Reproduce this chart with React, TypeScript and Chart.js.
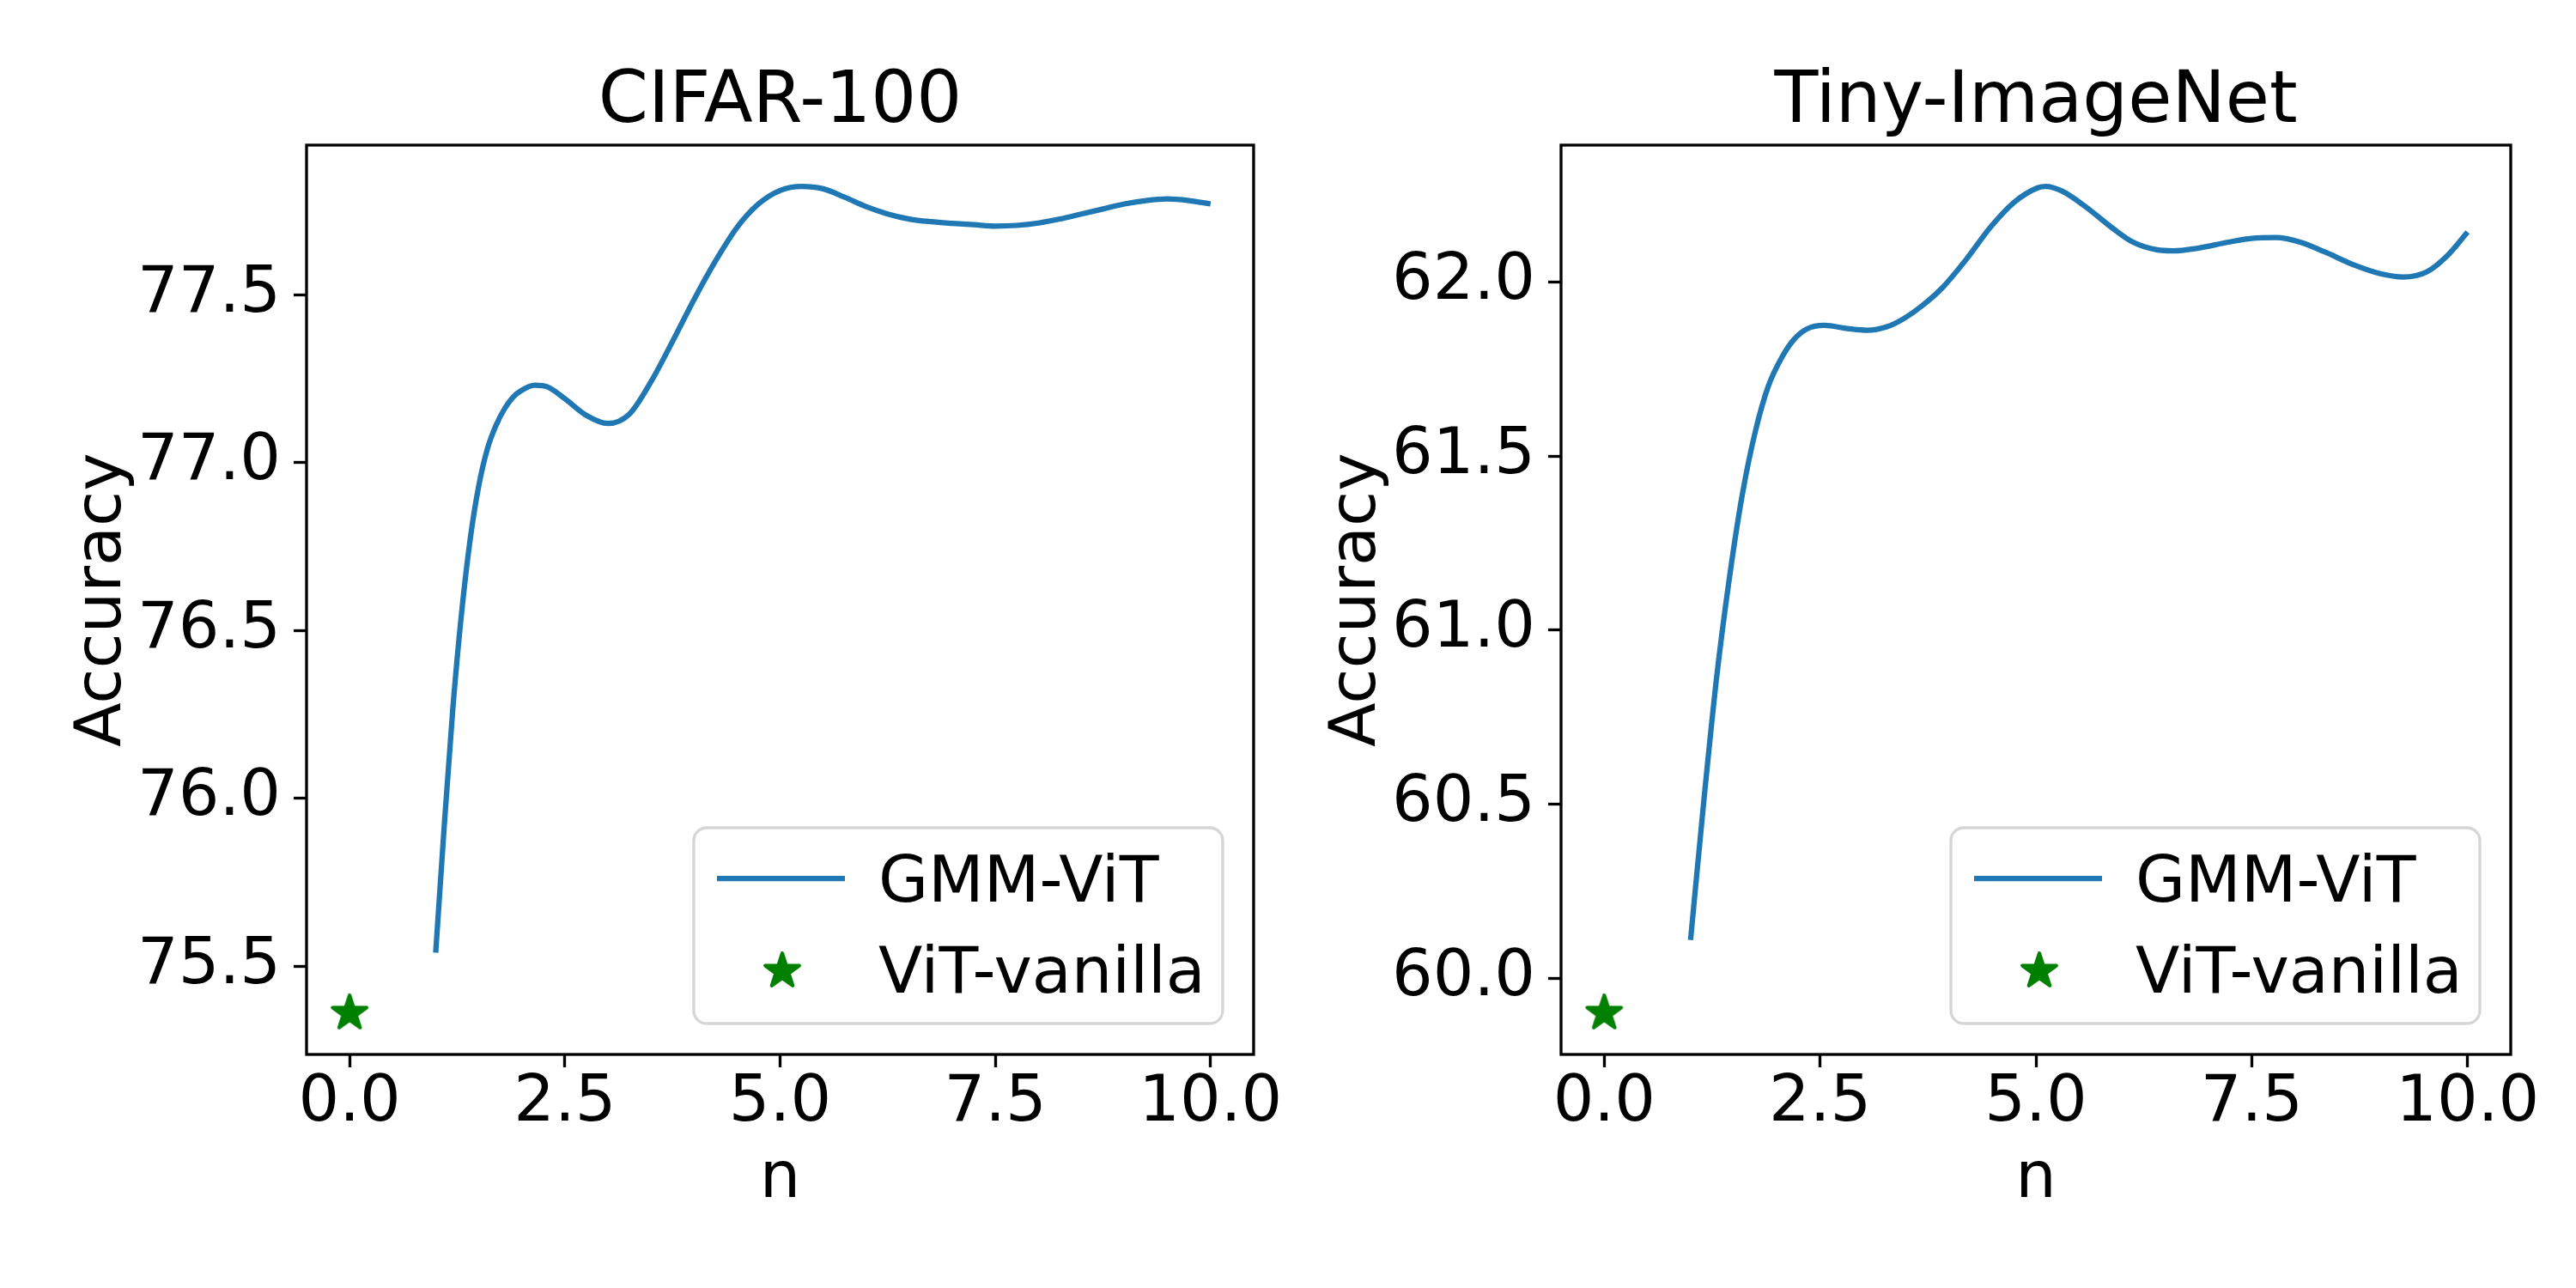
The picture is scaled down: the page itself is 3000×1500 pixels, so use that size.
import React, { useEffect, useRef } from 'react';
import { Chart, registerables } from 'chart.js';
Chart.register(...registerables);

// ---- data ----
const TITLES = ['CIFAR-100', 'Tiny-ImageNet'];
const SERIES_LABELS = ['GMM-ViT', 'ViT-vanilla'];
const X_LABEL = 'n';
const Y_LABEL = 'Accuracy';

const N_CIFAR = [1.0, 1.1, 1.2, 1.3, 1.4, 1.5, 1.6, 1.7, 1.8, 1.9, 2.0, 2.15, 2.3, 2.5, 2.75, 3.0, 3.25, 3.5, 3.75, 4.0, 4.25, 4.5, 4.75, 5.0, 5.25, 5.5, 5.75, 6.0, 6.25, 6.5, 6.75, 7.0, 7.25, 7.5, 7.75, 8.0, 8.25, 8.5, 8.75, 9.0, 9.25, 9.5, 9.75, 10.0];
const ACC_CIFAR = [75.54, 75.92, 76.27, 76.55, 76.77, 76.93, 77.04, 77.11, 77.16, 77.195, 77.215, 77.23, 77.225, 77.19, 77.14, 77.116, 77.144, 77.24, 77.36, 77.485, 77.6, 77.7, 77.77, 77.81, 77.822, 77.815, 77.79, 77.762, 77.74, 77.725, 77.717, 77.712, 77.708, 77.704, 77.706, 77.713, 77.725, 77.74, 77.755, 77.77, 77.78, 77.785, 77.78, 77.77];

const N_TINY = [1.0, 1.15, 1.3, 1.45, 1.6, 1.75, 1.9, 2.05, 2.2, 2.35, 2.55, 2.815, 3.045, 3.275, 3.46, 3.69, 3.92, 4.195, 4.47, 4.745, 5.02, 5.115, 5.3, 5.575, 5.9, 6.125, 6.4, 6.59, 6.86, 7.23, 7.5, 7.78, 8.06, 8.335, 8.7, 8.98, 9.255, 9.53, 9.76, 10.0];
const ACC_TINY = [60.11, 60.5, 60.86, 61.15, 61.39, 61.57, 61.7, 61.78, 61.835, 61.865, 61.875, 61.866, 61.861, 61.871, 61.893, 61.933, 61.984, 62.065, 62.156, 62.228, 62.27, 62.274, 62.261, 62.216, 62.152, 62.114, 62.092, 62.089, 62.096, 62.114, 62.125, 62.127, 62.114, 62.087, 62.047, 62.024, 62.014, 62.029, 62.074, 62.143];

const VANILLA_N = [0];
const VANILLA_CIFAR = [75.36];
const VANILLA_TINY = [59.9];

const X_TICKS = [0, 2.5, 5, 7.5, 10];
const Y_TICKS_CIFAR = [75.5, 76.0, 76.5, 77.0, 77.5];
const Y_TICKS_TINY = [60.0, 60.5, 61.0, 61.5, 62.0];

// ---- styling ----
const FONT = '"DejaVu Sans"';
const LINE_COLOR = '#1f77b4';
const STAR_COLOR = '#008000';

function makeStar(r: number, lw: number, color: string) {
  const size = Math.ceil(2 * (r + lw) + 4);
  const c = document.createElement('canvas');
  c.width = size;
  c.height = size;
  const g = c.getContext('2d')!;
  const cx = size / 2, cy = size / 2;
  g.beginPath();
  for (let i = 0; i < 10; i++) {
    const ang = -Math.PI / 2 + (i * Math.PI) / 5;
    const rr = i % 2 === 0 ? r : r * 0.381966;
    const px = cx + rr * Math.cos(ang);
    const py = cy + rr * Math.sin(ang);
    if (i === 0) g.moveTo(px, py); else g.lineTo(px, py);
  }
  g.closePath();
  g.fillStyle = color;
  g.fill();
  g.lineWidth = lw;
  g.lineJoin = 'round';
  g.strokeStyle = color;
  g.stroke();
  return c;
}

function limits(vals: number[]) {
  const mn = Math.min(...vals), mx = Math.max(...vals);
  const pad = (mx - mn) * 0.05;
  return [mn - pad, mx + pad];
}

const framePlugin = {
  id: 'frame',
  afterDraw(chart: any, _args: any, opts: any) {
    const { ctx, chartArea: a } = chart;
    ctx.save();
    // title
    ctx.fillStyle = '#000';
    ctx.font = `83.3px ${FONT}`;
    ctx.textAlign = 'center';
    ctx.textBaseline = 'alphabetic';
    ctx.fillText(opts.title, (a.left + a.right) / 2, 142);
    // spines
    ctx.lineWidth = 3.33;
    ctx.strokeStyle = '#000';
    ctx.strokeRect(a.left, a.top, a.right - a.left, a.bottom - a.top);
    // legend
    const w = 616, h = 228;
    const bx = a.right - 36 - w;
    const by = a.bottom - 36 - h;
    const rad = 15;
    ctx.beginPath();
    ctx.moveTo(bx + rad, by);
    ctx.lineTo(bx + w - rad, by);
    ctx.arcTo(bx + w, by, bx + w, by + rad, rad);
    ctx.lineTo(bx + w, by + h - rad);
    ctx.arcTo(bx + w, by + h, bx + w - rad, by + h, rad);
    ctx.lineTo(bx + rad, by + h);
    ctx.arcTo(bx, by + h, bx, by + h - rad, rad);
    ctx.lineTo(bx, by + rad);
    ctx.arcTo(bx, by, bx + rad, by, rad);
    ctx.closePath();
    ctx.fillStyle = 'rgba(255,255,255,0.8)';
    ctx.fill();
    ctx.lineWidth = 3.33;
    ctx.strokeStyle = '#d6d6d6';
    ctx.stroke();
    const ds = chart.data.datasets;
    // line handle
    ctx.beginPath();
    ctx.moveTo(bx + 27, by + 59);
    ctx.lineTo(bx + 176, by + 59);
    ctx.lineWidth = 6.25;
    ctx.strokeStyle = ds[0].borderColor;
    ctx.stroke();
    // star handle
    const st = ds[1].pointStyle as HTMLCanvasElement;
    ctx.drawImage(st, bx + 103 - st.width / 2, by + 167 - st.height / 2);
    // texts
    ctx.fillStyle = '#000';
    ctx.font = `75px ${FONT}`;
    ctx.textAlign = 'left';
    ctx.textBaseline = 'alphabetic';
    ctx.fillText(ds[0].label, bx + 215, by + 86);
    ctx.fillText(ds[1].label, bx + 215, by + 192);
    ctx.restore();
  },
};

function makeConfig(idx: number, star: HTMLCanvasElement) {
  const n = idx === 0 ? N_CIFAR : N_TINY;
  const acc = idx === 0 ? ACC_CIFAR : ACC_TINY;
  const van = idx === 0 ? VANILLA_CIFAR : VANILLA_TINY;
  const yTicks = idx === 0 ? Y_TICKS_CIFAR : Y_TICKS_TINY;
  const [xmin, xmax] = limits([...n, ...VANILLA_N]);
  const [ymin, ymax] = limits([...acc, ...van]);
  const yAxisWidth = idx === 0 ? 357 : 318;
  const rightPad = idx === 0 ? 37 : 76;
  const yTitlePad = idx === 0 ? 76 : 37;
  const tickFont = { family: FONT, size: 75, lineHeight: 1 };
  const grid = {
    display: true,
    drawOnChartArea: false,
    drawTicks: true,
    tickLength: 15,
    tickWidth: 3.33,
    tickColor: '#000',
  };
  return {
    type: 'line',
    data: {
      datasets: [
        {
          label: SERIES_LABELS[0],
          data: n.map((x, i) => ({ x, y: acc[i] })),
          borderColor: LINE_COLOR,
          backgroundColor: LINE_COLOR,
          borderWidth: 6.25,
          pointRadius: 0,
          cubicInterpolationMode: 'monotone',
          fill: false,
        },
        {
          label: SERIES_LABELS[1],
          data: VANILLA_N.map((x, i) => ({ x, y: van[i] })),
          showLine: false,
          pointStyle: star,
          pointRadius: 22,
          backgroundColor: STAR_COLOR,
          borderColor: STAR_COLOR,
        },
      ],
    },
    options: {
      animation: false,
      responsive: false,
      maintainAspectRatio: false,
      devicePixelRatio: 1,
      layout: { padding: { left: 0, right: rightPad, top: 169, bottom: 0 } },
      plugins: {
        legend: { display: false },
        tooltip: { enabled: false },
        title: { display: false },
        frame: { title: TITLES[idx] },
      },
      scales: {
        x: {
          type: 'linear',
          min: xmin,
          max: xmax,
          afterBuildTicks: (s: any) => {
            s.ticks = X_TICKS.map((v) => ({ value: v }));
          },
          afterFit: (s: any) => {
            s.height = 272;
          },
          ticks: {
            font: tickFont,
            color: '#000',
            padding: 5,
            maxRotation: 0,
            autoSkip: false,
            callback: (v: any) => Number(v).toFixed(1),
          },
          grid,
          border: { display: false },
          title: {
            display: true,
            text: X_LABEL,
            color: '#000',
            font: { family: FONT, size: 75 },
            padding: { top: 0, bottom: 80 },
          },
        },
        y: {
          type: 'linear',
          min: ymin,
          max: ymax,
          afterBuildTicks: (s: any) => {
            s.ticks = yTicks.map((v) => ({ value: v }));
          },
          afterFit: (s: any) => {
            s.width = yAxisWidth;
          },
          ticks: {
            font: tickFont,
            color: '#000',
            padding: 15,
            autoSkip: false,
            callback: (v: any) => Number(v).toFixed(1),
          },
          grid,
          border: { display: false },
          title: {
            display: true,
            text: Y_LABEL,
            color: '#000',
            font: { family: FONT, size: 75 },
            padding: { top: yTitlePad, bottom: 0 },
          },
        },
      },
    },
    plugins: [framePlugin],
  } as any;
}

function Panel({ idx }: { idx: number }) {
  const ref = useRef<HTMLCanvasElement | null>(null);
  useEffect(() => {
    const star = makeStar(20.83, 4.17, STAR_COLOR);
    const chart = new Chart(ref.current!, makeConfig(idx, star));
    return () => chart.destroy();
  }, [idx]);
  return (
    <div style={{ position: 'absolute', left: idx * 1500, top: 0, width: 1500, height: 1500 }}>
      <canvas ref={ref} width={1500} height={1500} style={{ width: 1500, height: 1500, display: 'block' }} />
    </div>
  );
}

export default function App() {
  return (
    <div style={{ position: 'absolute', left: 0, top: 0, width: 3000, height: 1500, background: '#fff' }}>
      <Panel idx={0} />
      <Panel idx={1} />
    </div>
  );
}
